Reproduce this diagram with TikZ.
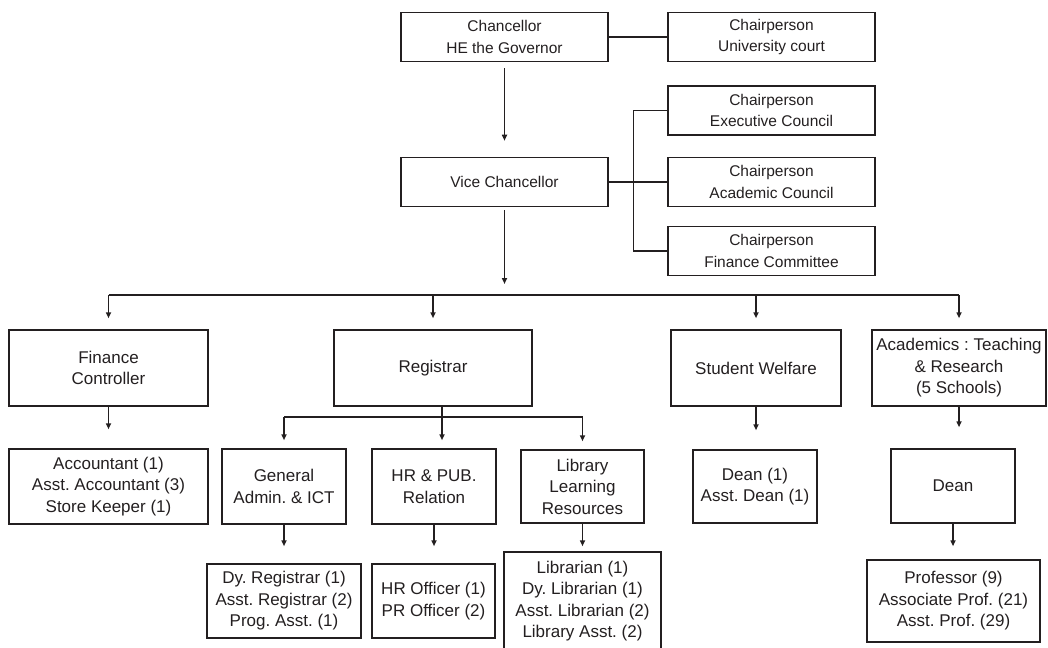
\documentclass[tikz,border=0pt]{standalone}
\usepackage{fontspec}
\setmainfont{Liberation Sans}
\usetikzlibrary{arrows.meta}
\definecolor{ink}{RGB}{35,31,32}
\frenchspacing

\begin{document}
\begin{tikzpicture}[x=1pt,y=-1pt,ink,
	box/.style={draw,line width=1.5pt,align=center,inner sep=1pt,font=\fontsize{17}{21.5}\selectfont},
	topbox/.style={box,minimum width=207pt,minimum height=49pt,font=\fontsize{15.5}{21.7}\selectfont},
	link/.style={line width=1.5pt},
	arr/.style={link,-{Triangle[length=6pt,width=5pt]}}]
		\clip (0,0) rectangle (1048,647);

		\node[topbox] (chan)  at (504.5,37)  {Chancellor\\HE the Governor};
		\node[topbox] (court) at (771.5,37)  {Chairperson\\University court};
		\node[topbox] (exec)  at (771.5,110.5) {Chairperson\\Executive Council};
		\node[topbox] (vc)    at (504.5,182) {Vice Chancellor};
		\node[topbox] (acad)  at (771.5,182) {Chairperson\\Academic Council};
		\node[topbox] (finc)  at (771.5,251) {Chairperson\\Finance Committee};

		\node[box,minimum width=199pt,minimum height=76pt] (fc)  at (108.5,368) {Finance\\Controller};
		\node[box,minimum width=198pt,minimum height=76pt] (reg) at (433,368)   {Registrar};
		\node[box,minimum width=170pt,minimum height=76pt] (sw)  at (756,368)   {Student Welfare};
		\node[box,minimum width=174pt,minimum height=76pt] (acd) at (959,368)   {Academics : Teaching\\\& Research\\(5 Schools)};

		\node[box,minimum width=199pt,minimum height=75pt] (acct)  at (108.5,486.5) {Accountant (1)\\Asst. Accountant (3)\\Store Keeper (1)};
		\node[box,minimum width=124pt,minimum height=75pt] (gen)   at (284,486.5)   {General\\Admin. \& ICT};
		\node[box,minimum width=124pt,minimum height=75pt] (hr)    at (434,486.5)   {HR \& PUB.\\Relation};
		\node[box,minimum width=123pt,minimum height=73pt] (lib)   at (582.5,486.5) {Library\\Learning\\Resources};
		\node[box,minimum width=124pt,minimum height=73pt] (dean1) at (755,486.5)   {Dean (1)\\Asst. Dean (1)};
		\node[box,minimum width=124pt,minimum height=74pt] (dean)  at (953,486)     {Dean};

		\node[box,minimum width=154pt,minimum height=74pt] (dyreg) at (284,601)   {Dy. Registrar (1)\\Asst. Registrar (2)\\Prog. Asst. (1)};
		\node[box,minimum width=123pt,minimum height=74pt] (hro)   at (433.5,601) {HR Officer (1)\\PR Officer (2)};
		\node[box,minimum width=157pt,minimum height=98pt] (libn)  at (582.5,601) {Librarian (1)\\Dy. Librarian (1)\\Asst. Librarian (2)\\Library Asst. (2)};
		\node[box,minimum width=173pt,minimum height=82pt] (prof)  at (953.5,601) {Professor (9)\\Associate Prof. (21)\\Asst. Prof. (29)};

		\coordinate (top) at (504.5,295);
		\coordinate (sub) at (442,417);

		% upper part
		\draw[link] (chan.east) -- (court.west);
		\draw[arr,shorten <=6pt,shorten >=16pt] (chan) -- (vc);
		\draw[link] (vc.east) -- (acad.west);
		\draw[link] (exec.west) -- ++(-34,0) |- (finc.west);
		\draw[arr,shorten <=3pt,shorten >=11pt] (vc) -- (top);

		% main branches
		\draw[link] (fc |- top) -- (acd |- top);
		\foreach \to in {fc,reg,sw,acd}
			\draw[arr,shorten >=11pt] (\to |- top) -- (\to);

		% registrar branches
		\draw[link] (sub |- reg.south) -- (sub);
		\draw[link] (gen |- sub) -- (lib |- sub);
		\foreach \to in {gen,lib}
			\draw[arr,shorten >=8pt] (\to |- sub) -- (\to);
		\draw[arr,shorten >=8pt] (sub) -- (sub |- hr.north);

		\foreach \from/\to/\gap in {fc/acct/19,sw/dean1/19,acd/dean/21,gen/dyreg/17,hr/hro/17,lib/libn/5,dean/prof/13}
			\draw[arr,shorten >=\gap pt] (\from.south) -- (\from.south |- \to.north);
	\end{tikzpicture}
\end{document}
